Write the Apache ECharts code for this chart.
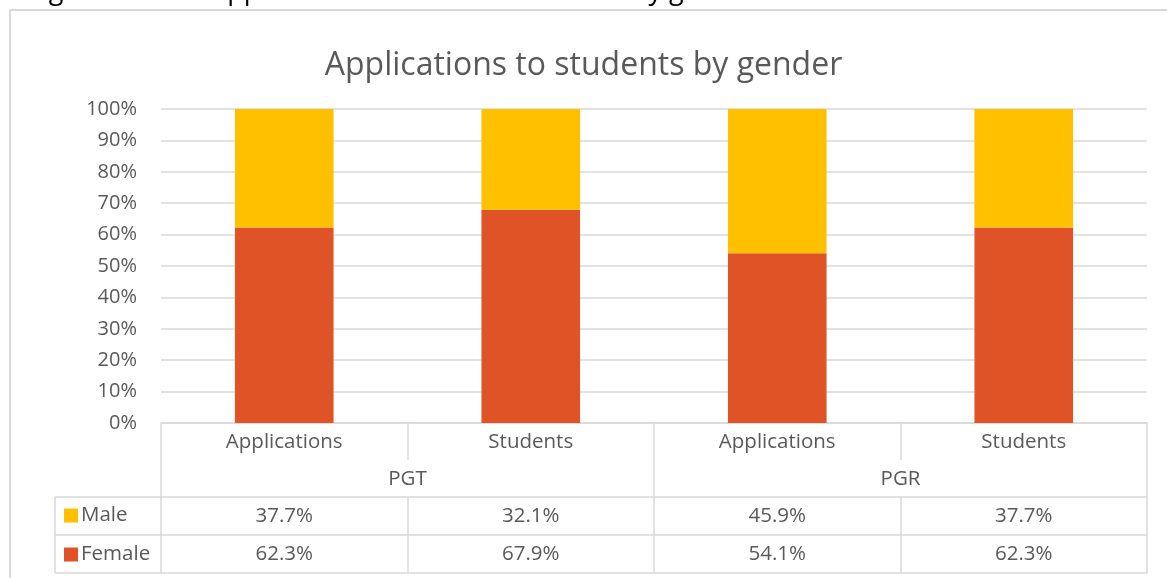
<!DOCTYPE html>
<html>
<head>
<meta charset="utf-8">
<script src="https://cdn.jsdelivr.net/npm/echarts@6/dist/echarts.min.js"></script>
<style>html,body{margin:0;padding:0;background:#fff;}#c{width:1167px;height:578px;}</style>
</head>
<body>
<div id="c"></div>
<script>
var categories = ["Applications", "Students", "Applications", "Students"];
var groups = ["PGT", "PGR"];
var female = [62.3, 67.9, 54.1, 62.3];
var male = [37.7, 32.1, 45.9, 37.7];
var yTicks = [0, 10, 20, 30, 40, 50, 60, 70, 80, 90, 100];
var titleText = "Applications to students by gender";
var captionText = "Figure 4: Total applications to enrolled students by gender";

var FONT = "Open Sans";
var GREY = "#595959";
var LINE = "#d9d9d9";
var GL = 161, GR = 20, GT = 109, GB = 155;
var H = 578, W = 1167;
var axisY = H - GB;           // 423
var rowMale = axisY + 74;     // 497
var rowFemale = axisY + 112;  // 535
var rowEnd = axisY + 150;     // 573
var legendLeft = 55;
var FS = 20.5;

var chart = echarts.init(document.getElementById('c'), null, {renderer: 'canvas'});

function hline(x1, x2, y) {
  return {type: 'line', shape: {x1: x1, y1: y, x2: x2, y2: y}, style: {stroke: LINE, lineWidth: 1.5}, silent: true};
}
function vline(x, y1, y2) {
  return {type: 'line', shape: {x1: x, y1: y1, x2: x, y2: y2}, style: {stroke: LINE, lineWidth: 1.5}, silent: true};
}

var option = {
  backgroundColor: '#fff',
  animation: false,
  textStyle: {fontFamily: FONT},
  title: {
    text: titleText,
    left: 'center',
    top: 45,
    textStyle: {fontFamily: FONT, fontSize: 32, fontWeight: 'normal', color: GREY}
  },
  legend: {
    orient: 'vertical',
    left: 59,
    top: 500,
    itemWidth: 14,
    itemHeight: 14,
    itemGap: 18,
    icon: 'rect',
    data: ['Male', 'Female'],
    textStyle: {fontFamily: FONT, fontSize: FS, color: GREY, padding: [0, 0, 0, -2]}
  },
  grid: {left: GL, right: GR, top: GT, bottom: GB, containLabel: false},
  yAxis: {
    type: 'value',
    min: 0, max: 100, interval: 10,
    axisLine: {show: false},
    axisTick: {show: false},
    splitLine: {lineStyle: {color: LINE, width: 1.5}},
    axisLabel: {
      margin: 24,
      fontFamily: FONT, fontSize: 20, color: GREY,
      formatter: function (v) { return yTicks.indexOf(v) >= 0 ? v + '%' : ''; }
    }
  },
  xAxis: [
    {
      type: 'category', data: categories, position: 'bottom',
      axisLine: {show: true, lineStyle: {color: LINE, width: 1.5}},
      axisTick: {show: true, length: 37, inside: false, lineStyle: {color: LINE, width: 1.5}},
      axisLabel: {margin: 9, fontFamily: FONT, fontSize: FS, color: GREY}
    },
    {
      type: 'category', data: groups, position: 'bottom', offset: 0,
      axisLine: {show: false},
      axisTick: {show: true, length: 74, lineStyle: {color: LINE, width: 1.5}},
      axisLabel: {margin: 46, fontFamily: FONT, fontSize: FS, color: GREY}
    },
    {
      type: 'category', data: categories, position: 'bottom', offset: 74,
      axisLine: {show: true, lineStyle: {color: LINE, width: 1.5}},
      axisTick: {show: true, length: 38, lineStyle: {color: LINE, width: 1.5}},
      axisLabel: {margin: 9, fontFamily: FONT, fontSize: FS, color: GREY,
        formatter: function (v, i) { return male[i].toFixed(1) + '%'; }}
    },
    {
      type: 'category', data: categories, position: 'bottom', offset: 112,
      axisLine: {show: true, lineStyle: {color: LINE, width: 1.5}},
      axisTick: {show: true, length: 38, lineStyle: {color: LINE, width: 1.5}},
      axisLabel: {margin: 9, fontFamily: FONT, fontSize: FS, color: GREY,
        formatter: function (v, i) { return female[i].toFixed(1) + '%'; }}
    },
    {
      type: 'category', data: categories, position: 'bottom', offset: 150,
      axisLine: {show: true, lineStyle: {color: LINE, width: 1.5}},
      axisTick: {show: false},
      axisLabel: {show: false}
    }
  ],
  series: [
    {
      name: 'Female', type: 'bar', stack: 'total', xAxisIndex: 0,
      barWidth: '40%',
      itemStyle: {color: '#E05327'},
      data: female
    },
    {
      name: 'Male', type: 'bar', stack: 'total', xAxisIndex: 0,
      barWidth: '40%',
      itemStyle: {color: '#FFC000'},
      data: male
    }
  ],
  graphic: [
    {type: 'rect', shape: {x: 10, y: 10, width: W + 20, height: H + 20},
     style: {fill: 'none', stroke: LINE, lineWidth: 2}, silent: true, z: -1},
    {type: 'text', left: 28, top: -22,
     style: {text: captionText, fontFamily: FONT, fontSize: 27, fill: '#000'}, silent: true},
    hline(legendLeft, GL, rowMale),
    hline(legendLeft, GL, rowFemale),
    hline(legendLeft, GL, rowEnd),
    vline(legendLeft, rowMale, rowEnd)
  ]
};
chart.setOption(option);
</script>
</body>
</html>
